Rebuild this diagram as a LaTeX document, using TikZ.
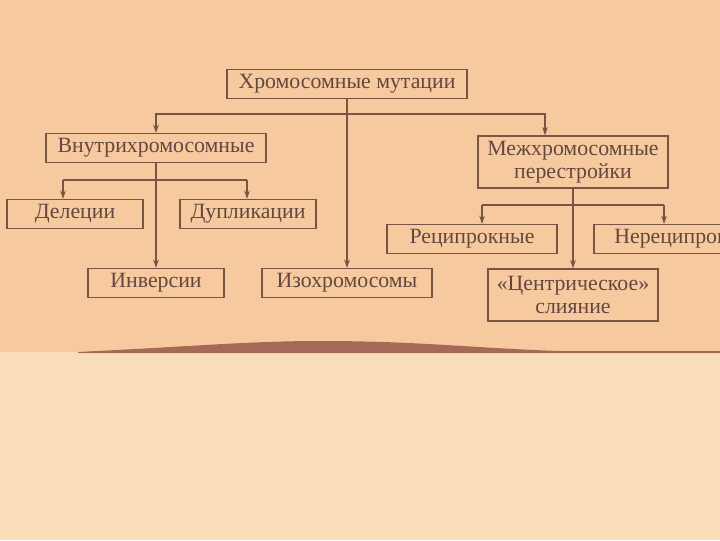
\documentclass[tikz,border=0pt]{standalone}
\usepackage{fontspec}
\setmainfont{Liberation Serif}
\usetikzlibrary{arrows.meta}

\definecolor{paper}{RGB}{246,201,159}
\definecolor{paperlow}{RGB}{250,222,186}
\definecolor{foldshade}{RGB}{165,105,85}
\definecolor{ink}{RGB}{120,84,66}
\definecolor{txt}{RGB}{100,72,64}

\tikzset{
  mbox/.style={draw=ink, line width=0.9pt, text=txt, minimum height=0.72cm,
    inner sep=2pt, align=center, font=\fontsize{15.5}{16.5}\selectfont},
  arr/.style={draw=ink, line width=0.8pt, -{Stealth[length=6pt,width=4pt]}},
  lin/.style={draw=ink, line width=0.8pt}
}

\begin{document}
\begin{tikzpicture}[x=0.025cm, y=-0.025cm]
\useasboundingbox (0,0) rectangle (720,540);
\clip (0,0) rectangle (720,540);

%----------------------------
% Page and shadow of the fold
%----------------------------
\fill[paper] (0,0) rectangle (720,352);
\fill[paperlow] (0,352) rectangle (720,540);
\fill[foldshade] (78,352) .. controls (200,346) and (250,341) .. (320,341)
  .. controls (420,341) and (470,348) .. (560,351) -- (720,351) -- (720,353) -- (78,353) -- cycle;

%----------------------------
% Top level
%----------------------------
\node[mbox, minimum width=6cm] (mut) at (347,84) {Хромосомные мутации};
\node[mbox, minimum width=5.5cm] (intra) at (156,148) {Внутрихромосомные};
\node[mbox, minimum width=4.75cm, minimum height=1.3cm] (inter) at (573,162)
  {Межхромосомные\\перестройки};

%----------------------------
% Left: inside one chromosome
%----------------------------
\node[mbox, minimum width=3.4cm] (del) at (75,214) {Делеции};
\node[mbox, minimum width=3.4cm] (dup) at (248,214) {Дупликации};
\node[mbox, minimum width=3.4cm] (inv) at (156,283) {Инверсии};

% Middle
\node[mbox, minimum width=4.25cm] (iso) at (347,283) {Изохромосомы};

%----------------------------
% Right: between chromosomes
%----------------------------
\node[mbox, minimum width=4.25cm] (rec) at (472,239) {Реципрокные};
\node[mbox, minimum width=4.75cm] (nrec) at (689,239) {Нереципрокные};
\node[mbox, minimum width=4.25cm, minimum height=1.3cm] (cen) at (573,295)
  {«Центрическое»\\слияние};

%----------------------------
% Connectors
%----------------------------
\coordinate (j1) at (347,114);
\coordinate (j1r) at (545,114);
\draw[arr] (mut) -- (iso);
\draw[arr] (j1) -| (intra);
\draw[arr] (j1) -- (j1r) -- (j1r |- inter.north);

\coordinate (j2) at (156,180);
\coordinate (j2l) at (63,180);
\coordinate (j2r) at (247,180);
\draw[arr] (intra) -- (inv);
\draw[lin] (j2l) -- (j2r);
\draw[arr] (j2l) -- (j2l |- del.north);
\draw[arr] (j2r) -- (j2r |- dup.north);

\coordinate (j3l) at (482,205);
\coordinate (j3r) at (664,205);
\draw[arr] (inter) -- (cen);
\draw[lin] (j3l) -- (j3r);
\draw[arr] (j3l) -- (j3l |- rec.north);
\draw[arr] (j3r) -- (j3r |- nrec.north);

\end{tikzpicture}
\end{document}
